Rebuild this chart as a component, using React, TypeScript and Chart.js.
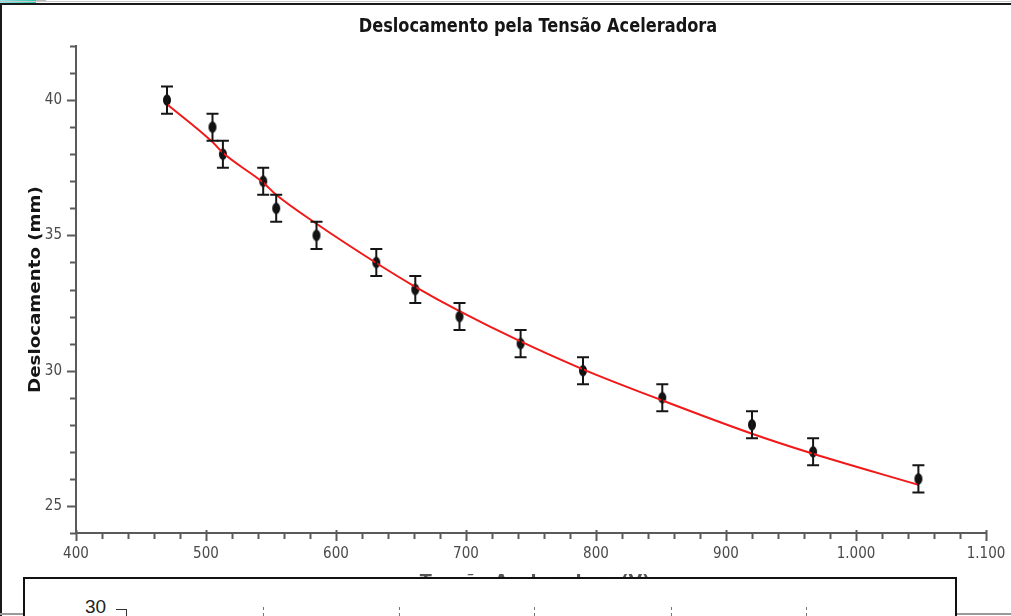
import React, { useEffect, useRef } from 'react';
import { Chart, registerables } from 'chart.js';

Chart.register(...registerables);

// ---- data ----
const chartTitle = 'Deslocamento pela Tensão Aceleradora';
const xAxisTitle = 'Tensão Aceleradora (V)';
const yAxisTitle = 'Deslocamento (mm)';

const voltage = [470, 505, 513, 544, 554, 585, 631, 661, 695, 742, 790, 851, 920, 967, 1048];
const displacement = [40, 39, 38, 37, 36, 35, 34, 33, 32, 31, 30, 29, 28, 27, 26];
const displacementError = [0.5, 0.5, 0.5, 0.5, 0.5, 0.5, 0.5, 0.5, 0.5, 0.5, 0.5, 0.5, 0.5, 0.5, 0.5];
const fitDisplacement = [39.85, 38.45, 38.05, 36.95, 36.5, 35.43, 33.98, 33.1, 32.2, 31.08, 30.05, 28.9, 27.67, 26.93, 25.78];

const xMin = 400;
const xMax = 1100;
const xMinorStep = 20;
const xMajorStep = 100;
const yMin = 24;
const yMax = 42;
const yMinorStep = 1;
const yMajorStep = 5;

const lowerChartTopLabel = '30';

const CONDENSED = "'DejaVu Sans Condensed', 'DejaVu Sans', sans-serif";
const WIDE = "'DejaVu Sans', sans-serif";
const AXIS_COLOR = '#5a5a5a';

function formatThousands(v: number): string {
  if (v >= 1000) {
    return `${Math.floor(v / 1000)}.${String(v % 1000).padStart(3, '0')}`;
  }
  return String(v);
}

function makePointImage(): HTMLCanvasElement {
  const c = document.createElement('canvas');
  c.width = 10;
  c.height = 14;
  const g = c.getContext('2d')!;
  g.fillStyle = '#111';
  g.beginPath();
  g.ellipse(5, 7, 4, 5.8, 0, 0, Math.PI * 2);
  g.fill();
  return c;
}

const axisTicksPlugin = {
  id: 'axisTicks',
  afterDraw(chart: any) {
    const { ctx, scales } = chart;
    const x = scales.x;
    const y = scales.y;
    ctx.save();
    ctx.strokeStyle = AXIS_COLOR;
    ctx.lineWidth = 2;
    x.ticks.forEach((t: any) => {
      const px = Math.round(x.getPixelForValue(t.value)) + 0.5;
      const major = t.value % xMajorStep === 0;
      ctx.beginPath();
      ctx.moveTo(px, x.top - (major ? 3 : 0));
      ctx.lineTo(px, x.top + (major ? 8 : 6));
      ctx.stroke();
    });
    y.ticks.forEach((t: any) => {
      const py = Math.round(y.getPixelForValue(t.value)) + 0.5;
      const major = t.value % yMajorStep === 0;
      ctx.beginPath();
      ctx.moveTo(y.right - (major ? 9 : 6), py);
      ctx.lineTo(y.right, py);
      ctx.stroke();
    });
    ctx.restore();
  },
};

const errorBarPlugin = {
  id: 'errorBars',
  afterDatasetsDraw(chart: any) {
    const { ctx, scales } = chart;
    const x = scales.x;
    const y = scales.y;
    ctx.save();
    ctx.strokeStyle = '#151515';
    ctx.lineWidth = 2;
    voltage.forEach((v, i) => {
      const px = x.getPixelForValue(v);
      const top = y.getPixelForValue(displacement[i] + displacementError[i]);
      const bot = y.getPixelForValue(displacement[i] - displacementError[i]);
      ctx.beginPath();
      ctx.moveTo(px, top);
      ctx.lineTo(px, bot);
      ctx.moveTo(px - 6, top);
      ctx.lineTo(px + 6, top);
      ctx.moveTo(px - 6, bot);
      ctx.lineTo(px + 6, bot);
      ctx.stroke();
    });
    ctx.restore();
  },
};

// titles drawn with a slight stretch, as the reference picture is stretched
const titlesPlugin = {
  id: 'stretchedTitles',
  afterDraw(chart: any) {
    const { ctx, chartArea } = chart;
    const draw = (text: string, x: number, y: number, font: string, color: string, rot: number, sx: number, sy: number) => {
      ctx.save();
      ctx.translate(x, y);
      ctx.rotate(rot);
      ctx.scale(sx, sy);
      ctx.font = font;
      ctx.fillStyle = color;
      ctx.textAlign = 'center';
      ctx.textBaseline = 'middle';
      ctx.fillText(text, 0, 0);
      ctx.restore();
    };
    const cx = (chartArea.left + chartArea.right) / 2;
    const cy = (chartArea.top + chartArea.bottom) / 2;
    draw(chartTitle, cx + 7, 27, `bold 18px ${CONDENSED}`, '#151515', 0, 1, 1.12);
    draw(yAxisTitle, chartArea.left - 40, cy, `bold 16px ${WIDE}`, '#151515', -Math.PI / 2, 1.14, 1);
    draw(xAxisTitle, cx + 4, chartArea.bottom + 49, `bold 16px ${WIDE}`, '#555', 0, 1.1, 1);
  },
};

const lowerChartTickLefts = [263, 399, 534, 671, 806];

export default function App() {
  const canvasRef = useRef<HTMLCanvasElement | null>(null);

  useEffect(() => {
    const canvas = canvasRef.current;
    if (!canvas) return;
    const pointImg = makePointImage();
    const chart = new Chart(canvas, {
      type: 'scatter',
      data: {
        datasets: [
          {
            type: 'line',
            label: 'Ajuste',
            data: voltage.map((v, i) => ({ x: v, y: fitDisplacement[i] })),
            borderColor: '#f21818',
            borderWidth: 2,
            pointRadius: 0,
            fill: false,
            cubicInterpolationMode: 'monotone',
          } as any,
          {
            label: 'Deslocamento',
            data: voltage.map((v, i) => ({ x: v, y: displacement[i] })),
            pointStyle: pointImg as any,
            pointRadius: 5,
            backgroundColor: '#111',
            borderColor: '#111',
          },
        ],
      },
      options: {
        animation: false,
        responsive: false,
        maintainAspectRatio: false,
        layout: { padding: { left: 0, right: 25, top: 46, bottom: 0 } },
        plugins: {
          legend: { display: false },
          tooltip: { enabled: false },
          title: { display: false },
        },
        scales: {
          x: {
            type: 'linear',
            min: xMin,
            max: xMax,
            afterFit: (s: any) => {
              s.height = 83;
            },
            ticks: {
              stepSize: xMinorStep,
              autoSkip: false,
              maxRotation: 0,
              padding: 5,
              color: '#4a4a4a',
              font: { family: CONDENSED, size: 15 },
              callback: (v: any) => (Number(v) % xMajorStep === 0 ? formatThousands(Number(v)) : ''),
            },
            grid: { display: true, drawOnChartArea: false, drawTicks: true, tickLength: 7, color: 'rgba(0,0,0,0)' },
            border: { display: true, color: AXIS_COLOR, width: 2 },
            title: { display: false },
          },
          y: {
            type: 'linear',
            min: yMin,
            max: yMax,
            afterFit: (s: any) => {
              s.width = 76;
            },
            ticks: {
              stepSize: yMinorStep,
              autoSkip: false,
              padding: 5,
              color: '#4a4a4a',
              font: { family: CONDENSED, size: 15 },
              callback: (v: any) => (Number(v) % yMajorStep === 0 ? String(v) : ''),
            },
            grid: { display: true, drawOnChartArea: false, drawTicks: true, tickLength: 9, color: 'rgba(0,0,0,0)' },
            border: { display: true, color: AXIS_COLOR, width: 2 },
            title: { display: false },
          },
        },
      } as any,
      plugins: [axisTicksPlugin, errorBarPlugin, titlesPlugin],
    });
    return () => chart.destroy();
  }, []);

  return (
    <div
      style={{
        position: 'fixed',
        left: 0,
        top: 0,
        width: 1011,
        height: 616,
        overflow: 'hidden',
        background: '#fff',
      }}
    >
      <canvas ref={canvasRef} width={1011} height={616} style={{ position: 'absolute', left: 0, top: 0, width: 1011, height: 616 }} />
      {/* slide decoration at top-left */}
      <div style={{ position: 'absolute', left: 0, top: 0, width: 36, height: 3, background: 'linear-gradient(90deg,#8fe6e8,#2fc7a9)' }} />
      <div style={{ position: 'absolute', left: 36, top: 0, width: 10, height: 2, background: '#b8b8b8' }} />
      {/* outer frame */}
      <div style={{ position: 'absolute', left: 0, top: 1, width: 1011, height: 1, background: '#c8c8c8' }} />
      <div style={{ position: 'absolute', left: 0, top: 3, width: 1011, height: 2, background: '#1a1a1a' }} />
      <div style={{ position: 'absolute', left: 0, top: 3, width: 2, height: 613, background: '#1a1a1a' }} />
      <div style={{ position: 'absolute', left: 0, top: 613, width: 1011, height: 2, background: '#9a9a9a' }} />
      {/* cropped lower chart */}
      <div
        style={{
          position: 'absolute',
          left: 23,
          top: 577,
          width: 934,
          height: 60,
          boxSizing: 'border-box',
          border: '2px solid #111',
          background: '#fff',
        }}
      />
      <div
        style={{
          position: 'absolute',
          left: 85,
          top: 597,
          fontFamily: "'Liberation Sans', Arial, sans-serif",
          fontSize: 19,
          lineHeight: '19px',
          color: '#222',
        }}
      >
        {lowerChartTopLabel}
      </div>
      <div
        style={{
          position: 'absolute',
          left: 116,
          top: 609,
          width: 10,
          height: 20,
          borderTop: '1.5px solid #333',
          borderRight: '1.5px solid #333',
        }}
      />
      {lowerChartTickLefts.map((l) => (
        <div
          key={l}
          style={{ position: 'absolute', left: l, top: 607, width: 0, height: 9, borderLeft: '1px dashed #777' }}
        />
      ))}
    </div>
  );
}
